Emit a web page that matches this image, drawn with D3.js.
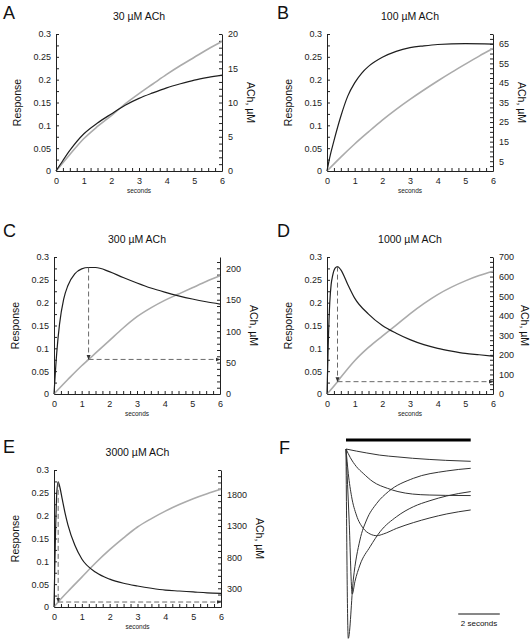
<!DOCTYPE html>
<html><head><meta charset="utf-8">
<script src="https://cdn.jsdelivr.net/npm/d3@7"></script>
<style>
html,body{margin:0;padding:0;background:#fff;}
svg{display:block;font-family:"Liberation Sans",Arial,Helvetica,sans-serif;}
</style></head>
<body>
<svg id="chart" width="532" height="640"></svg>
<script>
// ---------------- DATA ----------------
const panelLetters = ["A","B","C","D","E","F"];
const panelTitles = ["30 µM ACh","100 µM ACh","300 µM ACh","1000 µM ACh","3000 µM ACh"];
const responseTicks = [0,0.05,0.1,0.15,0.2,0.25,0.3];
const secondsTicks = [0,1,2,3,4,5,6];

// Panel A
const tRespA = [0,0.25,0.5,1,1.5,2,2.5,3,3.5,4,4.5,5,5.5,6];
const respA  = [0,0.023,0.045,0.081,0.105,0.125,0.144,0.159,0.171,0.182,0.191,0.199,0.205,0.210];
const tAchA  = [0,0.25,0.5,1,1.5,2,2.5,3,3.5,4,4.5,5,5.5,6];
const achA   = [0,1.2,2.4,4.7,6.5,8.1,9.8,11.3,12.7,14.1,15.4,16.6,17.8,18.9];
const achTicksA = [0,5,10,15,20];
// Panel B
const tRespB = [0,0.1,0.25,0.5,0.75,1,1.25,1.5,2,2.5,3,3.5,4,5,6];
const respB  = [0,0.03,0.066,0.12,0.164,0.193,0.214,0.229,0.249,0.262,0.270,0.274,0.277,0.279,0.278];
const tAchB  = [0,0.5,1,1.5,2,2.5,3,3.5,4,4.5,5,5.5,6];
const achB   = [0,7.1,13.8,20,26.0,31.5,36.6,41.4,46.0,50.4,54.6,58.7,62.6];
const achTicksB = [5,15,25,35,45,55,65];
// Panel C
const tRespC = [0,0.1,0.2,0.35,0.5,0.75,1,1.25,1.5,2,2.5,3,3.5,4,4.5,5,5.5,6];
const respC  = [0,0.091,0.153,0.208,0.237,0.263,0.274,0.277,0.277,0.268,0.255,0.243,0.232,0.223,0.215,0.208,0.202,0.197];
const tAchC  = [0,0.5,1,1.25,1.5,2,2.5,3,3.5,4,4.5,5,5.5,6];
const achC   = [0,23,45,55,65,85,105,123,137,149,159,169,179,188];
const achTicksC = [0,50,100,150,200];
const arrowC = {t:1.25, resp:0.277, ach:55};
// Panel D
const tRespD = [0,0.05,0.1,0.15,0.2,0.3,0.38,0.5,0.75,1,1.5,2,2.5,3,3.5,4,4.5,5,5.5,6];
const respD  = [0,0.12,0.2,0.24,0.258,0.276,0.279,0.272,0.240,0.210,0.175,0.150,0.133,0.119,0.108,0.100,0.094,0.089,0.086,0.083];
const tAchD  = [0,0.38,0.5,1,1.5,2,2.5,3,3.5,4,4.5,5,5.5,6];
const achD   = [0,63,85,170,238,296,352,410,462,508,546,578,605,627];
const achTicksD = [0,100,200,300,400,500,600,700];
const arrowD = {t:0.38, resp:0.279, ach:63};
// Panel E
const tRespE = [0,0.05,0.1,0.15,0.2,0.3,0.4,0.5,0.75,1,1.5,2,2.5,3,3.5,4,4.5,5,5.5,6];
const respE  = [0,0.15,0.25,0.274,0.265,0.235,0.205,0.18,0.135,0.105,0.076,0.061,0.052,0.046,0.041,0.037,0.035,0.033,0.031,0.030];
const tAchE  = [0,0.15,0.5,1,1.5,2,2.5,3,3.5,4,4.5,5,5.5,6];
const achE   = [0,80,250,480,710,920,1110,1285,1420,1540,1645,1740,1820,1890];
const achTicksE = [300,800,1300,1800];
const arrowE = {t:0.15, resp:0.274, ach:80};
// Panel F (simulated currents, normalized)
const tF30   = [0,0.5,1,1.6,2.5,3.2,4,4.8,6];
const iF30   = [0,-0.011,-0.021,-0.032,-0.042,-0.049,-0.055,-0.060,-0.065];
const tF100  = [0,0.2,0.5,0.83,1.3,2,2.5,3.2,4,4.8,6];
const iF100  = [0,-0.044,-0.093,-0.129,-0.173,-0.208,-0.225,-0.238,-0.243,-0.245,-0.246];
const tF300  = [0,0.11,0.27,0.5,0.83,1.16,1.48,1.8,2.44,3.24,4.04,4.85,6];
const iF300  = [0,-0.129,-0.252,-0.349,-0.419,-0.449,-0.458,-0.449,-0.419,-0.389,-0.364,-0.343,-0.322];
const tF1000 = [0,0.15,0.3,0.43,0.67,1.16,1.64,2.44,3.24,4.04,4.85,6];
const iF1000 = [0,-0.375,-0.766,-0.70,-0.613,-0.516,-0.437,-0.357,-0.305,-0.273,-0.248,-0.225];
const tF3000 = [0,0.11,0.35,0.67,0.99,1.48,2.04,3.24,4.85,6];
const iF3000 = [0,-1,-0.692,-0.481,-0.375,-0.287,-0.225,-0.155,-0.116,-0.102];
const fApplication = [0,6];
const fScaleBar = {start:5.4, len:2, label:"2 seconds"};

// ---------------- LAYOUT ----------------
const svg = d3.select("#chart");
const BLACK = "#1e1e1e", GRAY = "#ababab", DASH = "#6a6a6a";
const zip = (a,b) => a.map((v,i)=>[v,b[i]]);

const panels = [
  {letter:panelLetters[0], title:panelTitles[0], box:[56,222,34,171], letterPos:[3,19],
   resp:zip(tRespA,respA), ach:zip(tAchA,achA), achMax:20, achTicks:achTicksA, achMinor:1},
  {letter:panelLetters[1], title:panelTitles[1], box:[327,493,34,171], letterPos:[277,19],
   resp:zip(tRespB,respB), ach:zip(tAchB,achB), achMax:70, achTicks:achTicksB, achMinor:2.5},
  {letter:panelLetters[2], title:panelTitles[2], box:[54,220,257,394], letterPos:[3,237],
   resp:zip(tRespC,respC), ach:zip(tAchC,achC), achMax:218, achTicks:achTicksC, achMinor:10, arrow:arrowC},
  {letter:panelLetters[3], title:panelTitles[3], box:[327,493,257,394], letterPos:[277,237],
   resp:zip(tRespD,respD), ach:zip(tAchD,achD), achMax:700, achTicks:achTicksD, achMinor:25, arrow:arrowD},
  {letter:panelLetters[4], title:panelTitles[4], box:[54,221,470,607], letterPos:[3,453],
   resp:zip(tRespE,respE), ach:zip(tAchE,achE), achMax:2200, achTicks:achTicksE, achMinor:100, arrow:arrowE}
];

function range(a,b,step){const r=[];for(let v=a;v<=b+1e-9;v+=step)r.push(+v.toFixed(4));return r;}

svg.append("defs").append("marker")
  .attr("id","arrow").attr("viewBox","0 0 10 10").attr("refX",9).attr("refY",5)
  .attr("markerWidth",5).attr("markerHeight",5).attr("orient","auto")
  .append("path").attr("d","M0,1 L10,5 L0,9 Z").attr("fill","#333");

panels.forEach(p=>{
  const [x0,x1,y0,y1] = p.box;
  const x = d3.scaleLinear().domain([0,6]).range([x0,x1]);
  const y = d3.scaleLinear().domain([0,0.3]).range([y1,y0]);
  const yr = d3.scaleLinear().domain([0,p.achMax]).range([y1,y0]);
  const g = svg.append("g");

  g.append("text").attr("x",p.letterPos[0]).attr("y",p.letterPos[1])
    .attr("font-size",18).attr("fill","#111").text(p.letter);
  g.append("text").attr("x",(x0+x1)/2).attr("y",y0-14).attr("text-anchor","middle")
    .attr("font-size",10.5).attr("fill","#111").text(p.title);

  const leftTicks = range(0,0.3,0.025);
  const la = g.append("g").attr("transform",`translate(${x0},0)`)
    .call(d3.axisLeft(y).tickValues(leftTicks).tickSize(-3).tickSizeOuter(0).tickPadding(5)
      .tickFormat(d => responseTicks.some(t=>Math.abs(t-d)<1e-6) ? (d===0?"0":String(+d.toFixed(2))) : ""));
  const rightTicks = range(0,p.achMax,p.achMinor);
  const ra = g.append("g").attr("transform",`translate(${x1},0)`)
    .call(d3.axisRight(yr).tickValues(rightTicks).tickSize(-3).tickSizeOuter(0).tickPadding(6)
      .tickFormat(d => p.achTicks.some(t=>Math.abs(t-d)<1e-6) ? String(d) : ""));
  const ba = g.append("g").attr("transform",`translate(0,${y1})`)
    .call(d3.axisBottom(x).tickValues(range(0,6,0.25)).tickSize(-3).tickSizeOuter(0).tickPadding(7)
      .tickFormat(d => secondsTicks.includes(d) ? String(d) : ""));
  [la,ra,ba].forEach(a=>{
    a.selectAll("path.domain").attr("stroke","#222").attr("stroke-width",1);
    a.selectAll(".tick line").attr("stroke","#222");
    a.selectAll(".tick text").attr("font-size",9).attr("fill","#222")
      .attr("font-family","Liberation Sans, Arial, sans-serif");
  });
  let maxW = 0;
  ra.selectAll(".tick text").each(function(){ maxW = Math.max(maxW, this.getComputedTextLength()); });

  g.append("text").attr("transform",`translate(${x0-35},${(y0+y1)/2}) rotate(-90)`)
    .attr("text-anchor","middle").attr("font-size",10.5).attr("fill","#111").text("Response");
  g.append("text").attr("transform",`translate(${Math.min(x1+6+maxW+9, 521)},${(y0+y1)/2}) rotate(90)`)
    .attr("text-anchor","middle").attr("font-size",10.5).attr("fill","#111").text("ACh, µM");
  g.append("text").attr("x",(x0+x1)/2).attr("y",y1+22).attr("text-anchor","middle")
    .attr("font-size",6.5).attr("fill","#222").text("seconds");

  const lineR = d3.line().x(d=>x(d[0])).y(d=>y(d[1])).curve(d3.curveMonotoneX);
  const lineA = d3.line().x(d=>x(d[0])).y(d=>yr(d[1])).curve(d3.curveMonotoneX);
  g.append("path").attr("d",lineA(p.ach)).attr("fill","none").attr("stroke",GRAY).attr("stroke-width",1.6);
  g.append("path").attr("d",lineR(p.resp)).attr("fill","none").attr("stroke",BLACK).attr("stroke-width",1.2);

  if(p.arrow){
    const a = p.arrow;
    g.append("line").attr("x1",x(a.t)).attr("y1",y(a.resp)).attr("x2",x(a.t)).attr("y2",yr(a.ach))
      .attr("stroke",DASH).attr("stroke-width",1).attr("stroke-dasharray","5,3").attr("marker-end","url(#arrow)");
    g.append("line").attr("x1",x(a.t)).attr("y1",yr(a.ach)).attr("x2",x1).attr("y2",yr(a.ach))
      .attr("stroke",DASH).attr("stroke-width",1).attr("stroke-dasharray","5,3").attr("marker-end","url(#arrow)");
  }
});

// ---------------- PANEL F ----------------
(function(){
  const xf = d3.scaleLinear().domain([0,6]).range([346,470.7]);
  const yf = d3.scaleLinear().domain([-1,0]).range([638.3,449]);
  const g = svg.append("g");
  g.append("text").attr("x",279).attr("y",454).attr("font-size",18).attr("fill","#111").text(panelLetters[5]);
  g.append("line").attr("x1",xf(fApplication[0])).attr("x2",xf(fApplication[1]))
    .attr("y1",440).attr("y2",440).attr("stroke","#000").attr("stroke-width",3);
  const line = d3.line().x(d=>xf(d[0])).y(d=>yf(d[1])).curve(d3.curveMonotoneX);
  [zip(tF30,iF30),zip(tF100,iF100),zip(tF300,iF300),zip(tF1000,iF1000),zip(tF3000,iF3000)].forEach(s=>{
    g.append("path").attr("d",line(s)).attr("fill","none").attr("stroke","#333").attr("stroke-width",1);
  });
  g.append("line").attr("x1",xf(fScaleBar.start)).attr("x2",xf(fScaleBar.start+fScaleBar.len))
    .attr("y1",614).attr("y2",614).attr("stroke","#111").attr("stroke-width",1);
  g.append("text").attr("x",(xf(fScaleBar.start)+xf(fScaleBar.start+fScaleBar.len))/2).attr("y",626)
    .attr("text-anchor","middle").attr("font-size",8).attr("fill","#111").text(fScaleBar.label);
})();
</script>
</body></html>
